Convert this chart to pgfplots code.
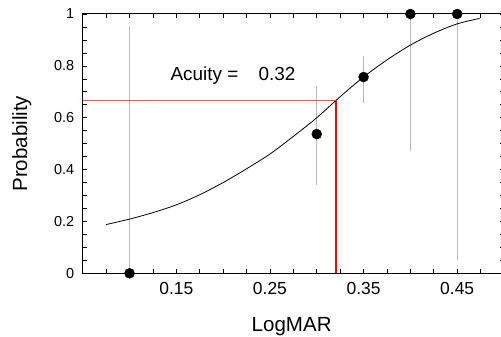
\documentclass[border=0pt]{standalone}
\usepackage{fontspec}
\setmainfont{Liberation Sans}
\usepackage{pgfplots}
\pgfplotsset{compat=1.18}
\definecolor{errgray}{RGB}{185,185,185}
\definecolor{thrred}{RGB}{255,0,0}
\definecolor{thrpink}{RGB}{250,80,80}
\begin{document}
\begin{tikzpicture}
\begin{axis}[
  width=421.3bp, height=259.3bp, scale only axis,
  xmin=0.05, xmax=0.5, ymin=0, ymax=1,
  clip=false,
  xtick={0.15,0.25,0.35,0.45},
  minor xtick={0.075,0.1,0.125,0.175,0.2,0.225,0.275,0.3,0.325,0.375,0.4,0.425,0.475},
  ytick={0,0.2,0.4,0.6,0.8,1},
  minor ytick={0.05,0.1,0.15,0.25,0.3,0.35,0.45,0.5,0.55,0.65,0.7,0.75,0.85,0.9,0.95},
  tick align=inside,
  major tick length=4bp, minor tick length=4bp,
  tick style={black, line width=0.6bp},
  axis line style={line width=1bp},
  /pgf/number format/assume math mode=true,
  xticklabel style={font=\fontsize{17.5}{20}\selectfont, yshift=-6bp},
  yticklabel style={font=\fontsize{14.5}{17}\selectfont, xshift=-5bp},
  xlabel={LogMAR},
  ylabel={Probability},
  xlabel style={font=\fontsize{20.6}{24}\selectfont, at={(axis description cs:0.496,-0.2252)}, anchor=base},
  ylabel style={font=\fontsize{20.6}{24}\selectfont, at={(axis description cs:-0.1322,0.5)}, anchor=base},
]
\coordinate (O) at (axis cs:0.05,0);
% error bars
\addplot[errgray, line width=0.9bp, forget plot] coordinates {(0.1,0) (0.1,0.954)};
\addplot[errgray, line width=0.9bp, forget plot] coordinates {(0.3,0.342) (0.3,0.722)};
\addplot[errgray, line width=0.9bp, forget plot] coordinates {(0.35,0.656) (0.35,0.838)};
\addplot[errgray, line width=0.9bp, forget plot] coordinates {(0.4,0.473) (0.4,1)};
\addplot[errgray, line width=0.9bp, forget plot] coordinates {(0.45,0.051) (0.45,1)};
% threshold lines
\addplot[color=thrpink, line width=1bp] coordinates {(0.05,0.666) (0.32,0.666)};
\addplot[color=thrred, line width=1.25bp] coordinates {(0.3205,0.002) (0.3205,0.664)};
% fitted curve
\addplot[black, line width=0.8bp, smooth, tension=0.5] coordinates {
(0.075,0.188) (0.1,0.209) (0.125,0.234) (0.15,0.264) (0.175,0.303)
(0.2,0.350) (0.225,0.403) (0.25,0.460) (0.275,0.528) (0.3,0.600)
(0.325,0.681) (0.35,0.757) (0.375,0.823) (0.4,0.880) (0.425,0.926)
(0.45,0.962) (0.474,0.983)};
% data
\addplot[only marks, mark=*, mark size=5bp, black] coordinates {
(0.1,0) (0.3,0.537) (0.35,0.757) (0.4,1) (0.45,1)};
\node[anchor=base west, inner sep=0pt, font=\fontsize{19}{22}\selectfont] at (axis cs:0.1436,0.745) {Acuity =};
\node[anchor=base west, inner sep=0pt, font=\fontsize{19}{22}\selectfont] at (axis cs:0.2376,0.745) {0.32};
\end{axis}
\pgfresetboundingbox
\useasboundingbox ([shift={(-82.7bp,-63.7bp)}]O) rectangle ([shift={(418.3bp,273.3bp)}]O);
\end{tikzpicture}
\end{document}
